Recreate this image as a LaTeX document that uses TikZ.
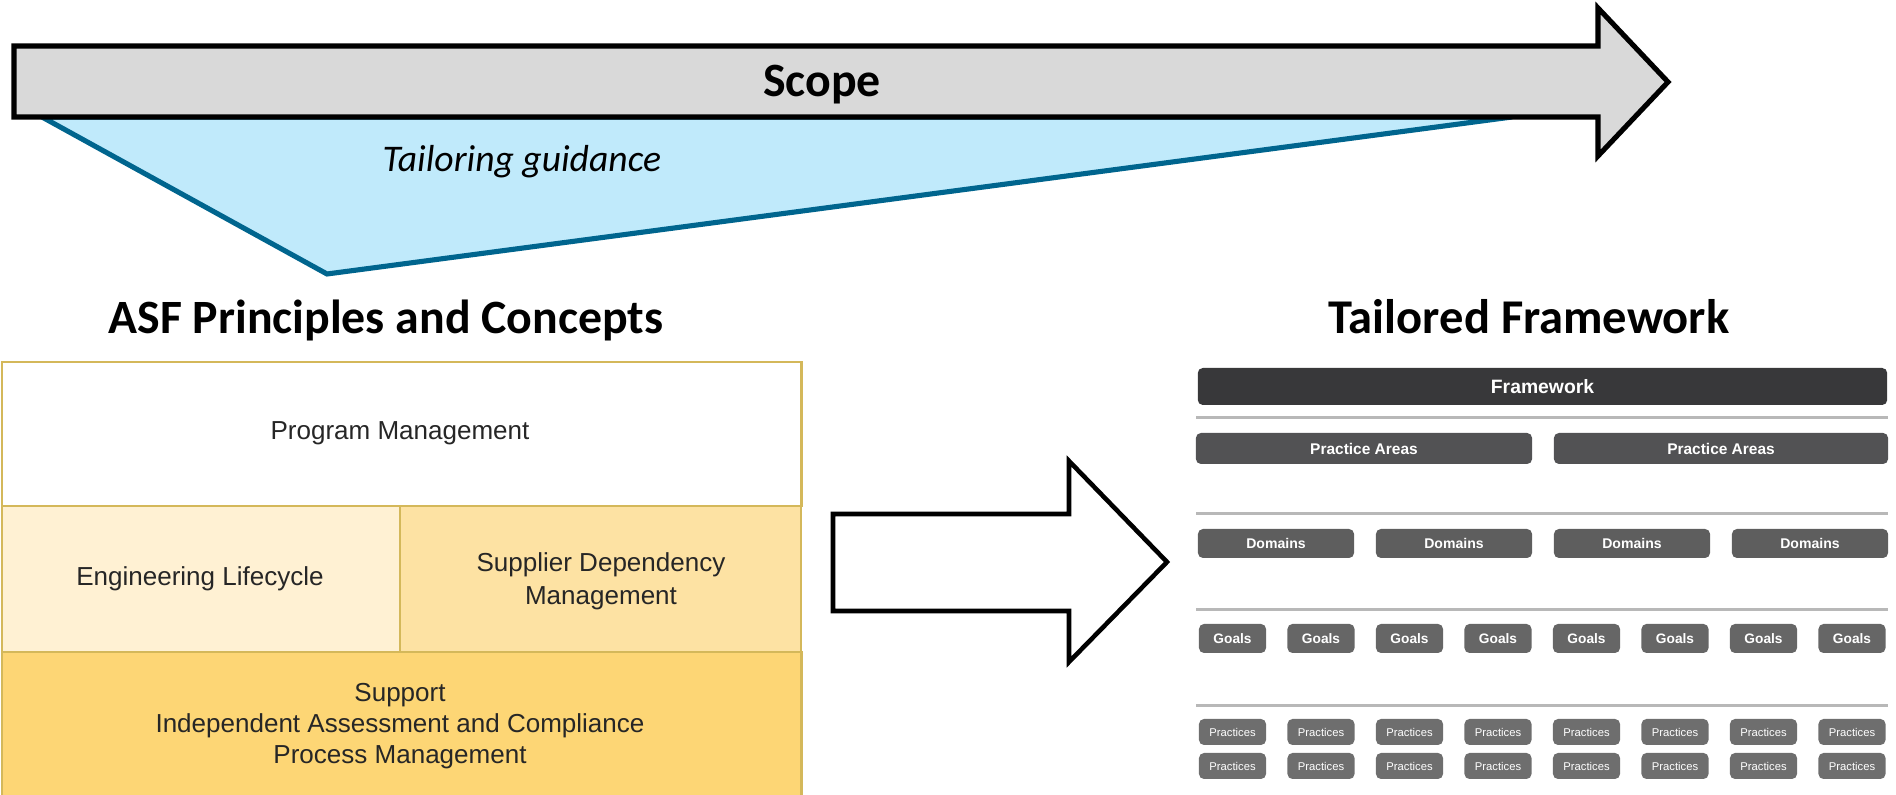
\documentclass[tikz,border=0pt]{standalone}
\usepackage{fontspec}
\setmainfont{Liberation Sans}
\newfontfamily\calfont{Carlito}
\definecolor{scopegray}{HTML}{D9D9D9}
\definecolor{tailfill}{HTML}{C0EAFB}
\definecolor{tailline}{HTML}{00658E}
\definecolor{goldline}{HTML}{D4B85A}
\definecolor{engfill}{HTML}{FFF1D3}
\definecolor{supfill}{HTML}{FDE2A3}
\definecolor{supportfill}{HTML}{FDD675}
\definecolor{fwdark}{HTML}{38383A}
\definecolor{padark}{HTML}{525254}
\definecolor{domgray}{HTML}{5E5E5E}
\definecolor{goalgray}{HTML}{666666}
\definecolor{pracgray}{HTML}{6E6E6E}
\definecolor{sepgray}{HTML}{B8B8B8}
\tikzset{
  heading/.style={font=\calfont\bfseries\fontsize{13.6}{16}\selectfont, anchor=base, inner sep=0pt},
  block/.style={draw=goldline, line width=0.6pt, inner sep=0pt},
  blocktext/.style={font=\fontsize{7.4}{9.3}\selectfont, align=center, inner sep=0pt, text=black!85},
  chip/.style={rounded corners=0.05cm, inner sep=0pt, text=white, font=\bfseries},
  sepline/.style={draw=sepgray, line width=0.85pt},
}
\begin{document}
\begin{tikzpicture}[x=0.01cm,y=-0.01cm]
\useasboundingbox (0,0) rectangle (1896,795);
% tailoring triangle
\filldraw[fill=tailfill, draw=tailline, line width=1.45pt, line join=miter] (42,117) -- (327,274) -- (1512,117) -- cycle;
\node[font=\calfont\itshape\fontsize{10.7}{13}\selectfont, anchor=base, inner sep=0pt] (tg) at (522,172) {Tailoring guidance};
% scope arrow
\filldraw[fill=scopegray, draw=black, line width=1.45pt, line join=miter]
  (14,46) -- (1598,46) -- (1598,8) -- (1668,82) -- (1598,156) -- (1598,117) -- (14,117) -- cycle;
\node[heading] (scope) at (822,97) {Scope};
% headings
\node[heading] (asf) at (386,334) {ASF Principles and Concepts};
\node[heading, font=\calfont\bfseries\fontsize{13.8}{16}\selectfont] (tf) at (1529,334) {Tailored Framework};
% left block
\node[block, fill=white, minimum width=7.99cm, minimum height=1.44cm, anchor=north west] (pm) at (1,361) {};
\node[block, fill=engfill, minimum width=3.98cm, minimum height=1.46cm, anchor=north west] (el) at (1,505) {};
\node[block, fill=supfill, minimum width=4.01cm, minimum height=1.46cm, anchor=north west] (sd) at (399,505) {};
\node[block, fill=supportfill, minimum width=7.99cm, minimum height=1.5cm, anchor=north west] (sp) at (1,651) {};
\node[blocktext] (pmt) at (400,433) {Program Management};
\node[blocktext] (elt) at (200,579) {Engineering Lifecycle};
\node[blocktext, font=\fontsize{7.4}{9.4}\selectfont] (sdt) at (601,581) {Supplier Dependency\\Management};
\node[blocktext, font=\fontsize{7.4}{8.8}\selectfont] (spt) at (400,726) {Support\\Independent Assessment and Compliance\\Process Management};
% big arrow
\filldraw[fill=white, draw=black, line width=1.3pt, line join=miter]
  (833,514) -- (1069,514) -- (1069,461) -- (1167,562) -- (1069,662) -- (1069,611) -- (833,611) -- cycle;
% framework
\node[chip, fill=fwdark, minimum width=6.89cm, minimum height=0.37cm, font=\bfseries\fontsize{5.5}{6}\selectfont] (fw) at (1542.5,386.5) {Framework};
\draw[sepline] (1196,418) -- (1888,418);
\node[chip, fill=padark, minimum width=3.36cm, minimum height=0.31cm, font=\bfseries\fontsize{4.4}{5}\selectfont] (pa1) at (1364,448.5) {Practice Areas};
\node[chip, fill=padark, minimum width=3.34cm, minimum height=0.31cm, font=\bfseries\fontsize{4.4}{5}\selectfont] (pa2) at (1721,448.5) {Practice Areas};
\draw[sepline] (1196,514) -- (1888,514);
\foreach \cx [count=\i] in {1276,1454,1632,1810} {
  \node[chip, fill=domgray, minimum width=1.56cm, minimum height=0.29cm, font=\bfseries\fontsize{4.0}{5}\selectfont] (d\i) at (\cx,543.5) {Domains};
}
\draw[sepline] (1196,610) -- (1888,610);
\foreach \i in {0,...,7} {
  \node[chip, fill=goalgray, minimum width=0.67cm, minimum height=0.29cm, font=\bfseries\fontsize{3.9}{5}\selectfont] (g\i) at (1232.5+88.5*\i,638.5) {Goals};
}
\draw[sepline] (1196,706) -- (1888,706);
\foreach \i in {0,...,7} {
  \node[chip, fill=pracgray, minimum width=0.67cm, minimum height=0.26cm, font=\fontsize{3.2}{4}\selectfont] (p\i) at (1232.5+88.5*\i,732) {Practices};
  \node[chip, fill=pracgray, minimum width=0.67cm, minimum height=0.26cm, font=\fontsize{3.2}{4}\selectfont] (q\i) at (1232.5+88.5*\i,766) {Practices};
}
\end{tikzpicture}
\end{document}
